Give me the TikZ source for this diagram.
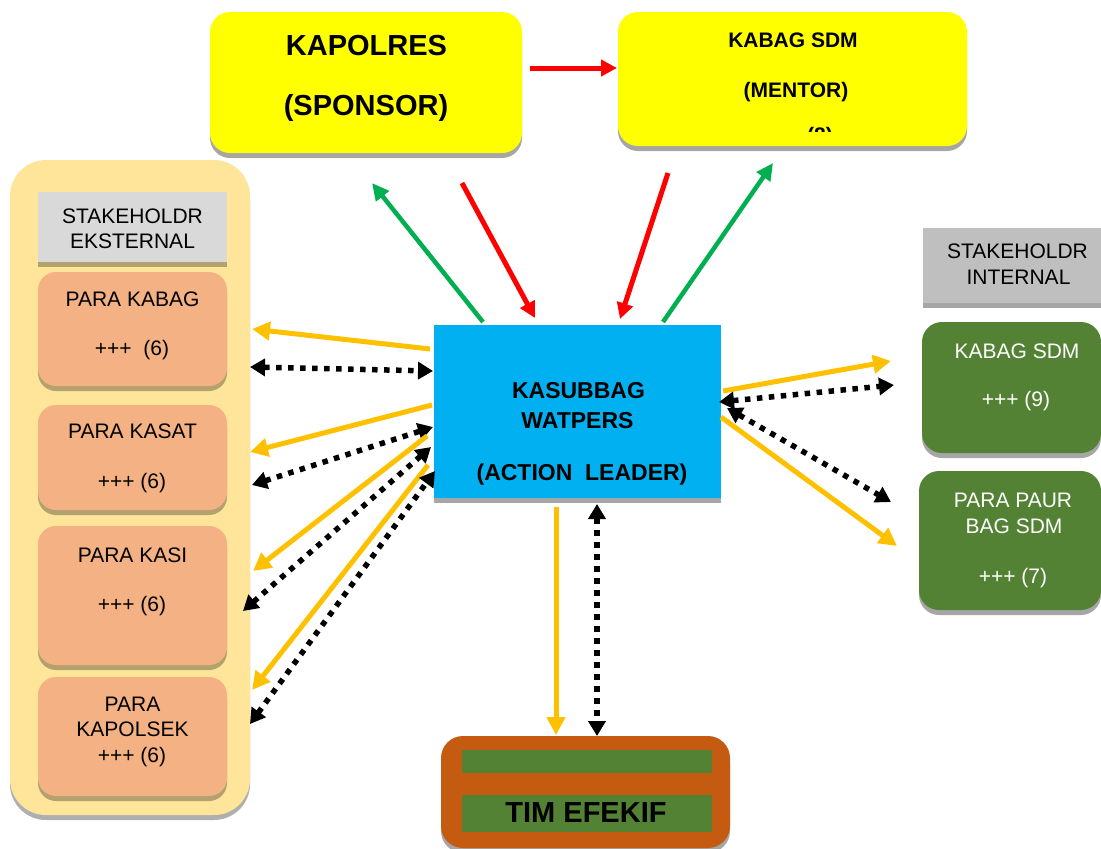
\documentclass[tikz,border=0pt]{standalone}
\usepackage{fontspec}
\setmainfont{Liberation Sans}
\usetikzlibrary{arrows.meta}
\definecolor{cYel}{HTML}{FFFF00}
\definecolor{cArr}{HTML}{FFC000}
\definecolor{cGreenA}{HTML}{00B050}
\definecolor{cRed}{HTML}{FF0000}
\definecolor{cCont}{HTML}{FFE599}
\definecolor{cSal}{HTML}{F4B183}
\definecolor{cKhaki}{HTML}{B3A26E}
\definecolor{cShGray}{HTML}{A6A6A6}
\definecolor{cBlue}{HTML}{00B0F0}
\definecolor{cGreenB}{HTML}{548235}
\definecolor{cOrange}{HTML}{C55A11}
\definecolor{cHdrE}{HTML}{D9D9D9}
\definecolor{cHdrI}{HTML}{BFBFBF}
\begin{document}
\begin{tikzpicture}[x=1pt,y=-1pt,
  shd/.style={preaction={fill=#1, transform canvas={yshift=-5pt}}},
  boxbase/.style={inner sep=0pt, outer sep=0pt},
  yellowbox/.style={boxbase, fill=cYel, rounded corners=20pt, shd=cShGray},
  contbox/.style={boxbase, fill=cCont, rounded corners=36pt, shd=cShGray!90},
  salbox/.style={boxbase, fill=cSal, rounded corners=18pt, shd=cKhaki},
  hdrbox/.style={boxbase, fill=#1},
  greenbox/.style={boxbase, fill=cGreenB, rounded corners=20pt, shd=cShGray},
  bluebox/.style={boxbase, fill=cBlue, shd=cShGray},
  timbox/.style={boxbase, fill=cOrange, rounded corners=22pt, shd=cShGray},
  barbox/.style={boxbase, fill=cGreenB},
  txt/.style={anchor=base, inner sep=0pt, font=\fontsize{21}{25}\selectfont},
  wtxt/.style={txt, text=white},
  btxt/.style={anchor=base, inner sep=0pt, font=\fontsize{#1}{#1}\selectfont\bfseries},
  yarr/.style={draw=cArr, line width=5pt, -{Triangle[length=18pt,width=18pt]}},
  garr/.style={draw=cGreenA, line width=4.5pt, -{Triangle[length=17pt,width=16pt]}},
  rarr/.style={draw=cRed, line width=5pt, -{Triangle[length=16pt,width=16pt]}},
  darr/.style={draw=black, line width=5.5pt, dash pattern=on 5.5pt off 6.5pt,
    {Triangle[length=15pt,width=17pt]}-{Triangle[length=15pt,width=17pt]}}
]
\useasboundingbox (0,0) rectangle (1101,849);

% ---- top boxes
\node[yellowbox, minimum width=312pt, minimum height=141pt] (kapolres) at (366,82.5) {};
\node[btxt=29] (tkap1) at (366.5,55) {KAPOLRES};
\node[btxt=29] (tkap2) at (366,115) {(SPONSOR)};

\node[yellowbox, minimum width=349pt, minimum height=134pt] (mentor) at (792.5,79) {};
\node[btxt=21] (tmen1) at (793,47) {KABAG SDM};
\node[btxt=21] (tmen2) at (796,97) {(MENTOR)};
\begin{scope}
  \clip (618,12) rectangle (967,131);
  \node[btxt=21] (tmen3) at (820,142) {(8)};
\end{scope}

% ---- external stakeholders
\node[contbox, minimum width=240pt, minimum height=655pt] (ext) at (130,487.5) {};
\node[hdrbox=cHdrE, shd=cKhaki, minimum width=189pt, minimum height=70pt] (hdrE) at (132.5,227) {};
\node[txt] (thE1) at (132.5,223) {STAKEHOLDR};
\node[txt] (thE2) at (132.5,248) {EKSTERNAL};

\node[salbox, minimum width=189pt, minimum height=114pt] (pkabag) at (132.5,329) {};
\node[txt] (tpk1) at (132.5,306) {PARA KABAG};
\node[txt] (tpk2) at (132,355) {+++\ \ (6)};

\node[salbox, minimum width=189pt, minimum height=105pt] (pkasat) at (132.5,457.5) {};
\node[txt] (tps1) at (132.5,438) {PARA KASAT};
\node[txt] (tps2) at (132,488) {+++ (6)};

\node[salbox, minimum width=189pt, minimum height=139pt] (pkasi) at (132.5,595.5) {};
\node[txt] (tpi1) at (132.5,562) {PARA KASI};
\node[txt] (tpi2) at (132,611) {+++ (6)};

\node[salbox, minimum width=189pt, minimum height=119pt] (pkapolsek) at (132.5,736.5) {};
\node[txt] (tpp1) at (132.5,711) {PARA};
\node[txt] (tpp2) at (132.5,736) {KAPOLSEK};
\node[txt] (tpp3) at (132,762) {+++ (6)};

% ---- action leader
\node[bluebox, minimum width=287pt, minimum height=173pt] (kas) at (577.5,411.5) {};
\node[btxt=23] (tka1) at (578.5,398) {KASUBBAG};
\node[btxt=23] (tka2) at (577.5,428) {WATPERS};
\node[btxt=23] (tka3) at (582,480) {(ACTION\ \ LEADER)};

% ---- internal stakeholders
\node[hdrbox=cHdrI, shd=cShGray, minimum width=178pt, minimum height=75pt] (hdrI) at (1012,265.5) {};
\node[txt] (thI1) at (1017.5,258) {STAKEHOLDR};
\node[txt] (thI2) at (1018.5,284) {INTERNAL};

\node[greenbox, minimum width=179pt, minimum height=131pt] (kabagI) at (1011.5,387.5) {};
\node[wtxt] (tkb1) at (1017,358) {KABAG SDM};
\node[wtxt] (tkb2) at (1016,406) {+++ (9)};

\node[greenbox, minimum width=182pt, minimum height=139pt] (paur) at (1010,540.5) {};
\node[wtxt] (tpa1) at (1013,507) {PARA PAUR};
\node[wtxt] (tpa2) at (1014,533) {BAG SDM};
\node[wtxt] (tpa3) at (1013,583) {+++ (7)};

% ---- team
\node[timbox, minimum width=289pt, minimum height=112pt] (tim) at (585.5,792) {};
\node[barbox, minimum width=250pt, minimum height=23pt] (bar1) at (587,761.5) {};
\node[barbox, minimum width=250pt, minimum height=37pt] (bar2) at (587,813.5) {};
\node[btxt=29] (ttim) at (586,822) {TIM EFEKIF};

% ---- arrow end points
\coordinate (rA) at (530,68);   \coordinate (rB) at (617,68);
\coordinate (g1a) at (483,322); \coordinate (g1b) at (372,183);
\coordinate (r1a) at (462,183); \coordinate (r1b) at (535,318);
\coordinate (r2a) at (668,173); \coordinate (r2b) at (620,319);
\coordinate (g2a) at (663,322); \coordinate (g2b) at (773,163);

\coordinate (y1a) at (430,349); \coordinate (y1b) at (252,329);
\coordinate (d1a) at (250,367); \coordinate (d1b) at (433,371);
\coordinate (y2a) at (432,405); \coordinate (y2b) at (250,452);
\coordinate (d2a) at (252,485); \coordinate (d2b) at (433,427);
\coordinate (y3a) at (427,436); \coordinate (y3b) at (253,571);
\coordinate (d3a) at (243,611); \coordinate (d3b) at (431,447);
\coordinate (y4a) at (428,465); \coordinate (y4b) at (252,690);
\coordinate (d4a) at (250,724); \coordinate (d4b) at (435,471);

\coordinate (y5a) at (723,391); \coordinate (y5b) at (891,361);
\coordinate (d5a) at (719,402); \coordinate (d5b) at (894,385);
\coordinate (d6a) at (727,408); \coordinate (d6b) at (891,502);
\coordinate (y6a) at (721,417); \coordinate (y6b) at (897,546);

\coordinate (y7a) at (556,507); \coordinate (y7b) at (556,735);
\coordinate (d7a) at (597,504); \coordinate (d7b) at (597,736);

% ---- arrows
\draw[rarr] (rA) -- (rB);
\draw[garr] (g1a) -- (g1b);
\draw[rarr] (r1a) -- (r1b);
\draw[rarr] (r2a) -- (r2b);
\draw[garr] (g2a) -- (g2b);

\draw[yarr] (y1a) -- (y1b);
\draw[darr] (d1a) -- (d1b);
\draw[yarr] (y2a) -- (y2b);
\draw[darr] (d2a) -- (d2b);
\draw[yarr] (y3a) -- (y3b);
\draw[darr] (d3a) -- (d3b);
\draw[yarr] (y4a) -- (y4b);
\draw[darr] (d4a) -- (d4b);

\draw[yarr] (y5a) -- (y5b);
\draw[darr] (d5a) -- (d5b);
\draw[darr] (d6a) -- (d6b);
\draw[yarr] (y6a) -- (y6b);

\draw[yarr] (y7a) -- (y7b);
\draw[darr] (d7a) -- (d7b);
\end{tikzpicture}
\end{document}
